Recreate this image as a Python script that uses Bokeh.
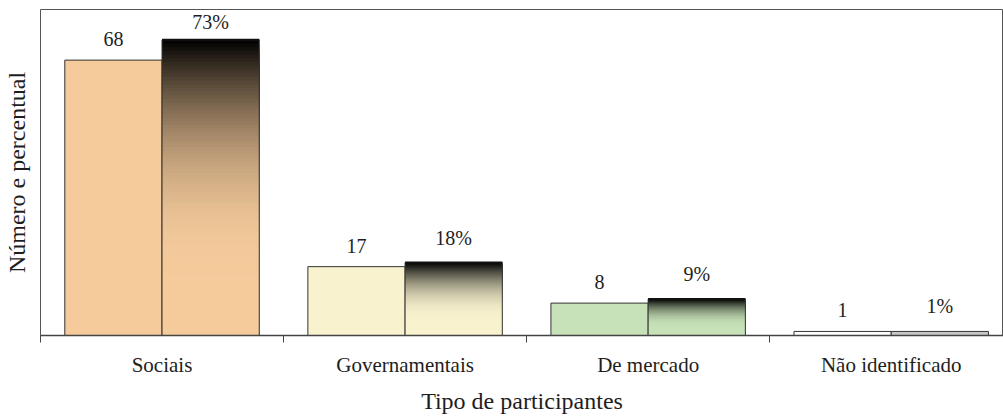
from bokeh.plotting import figure
from bokeh.models import FixedTicker, Range1d, ColumnDataSource
from bokeh.core.properties import value
from bokeh.embed import file_html
from bokeh.resources import INLINE

categories = ["Sociais", "Governamentais", "De mercado", "Não identificado"]
numbers = [68, 17, 8, 1]
percents = [73, 18, 9, 1]
number_colors = ["#F5CB9C", "#F8F2CE", "#C7E2B8", "#FFFFFF"]
percent_colors = ["#F5CB9C", "#F8F2CE", "#C7E2B8", "#C8C8C8"]
percent_gradient = [True, True, True, False]

FONT = "serif"
TXT = "#1e1e1e"
EDGE = "#333333"
Y_MAX = 80.5

p = figure(width=1003, height=416, output_backend="svg", toolbar_location=None,
           x_range=Range1d(0, 3.962), y_range=Range1d(0, Y_MAX),
           min_border_left=39, min_border_right=0, min_border_top=9, min_border_bottom=10)
p.xgrid.visible = False
p.ygrid.visible = False
p.outline_line_color = "#555555"
p.outline_line_width = 1
p.background_fill_color = "white"
p.border_fill_color = "white"

centers = [i + 0.5 for i in range(len(categories))]
num_x = [c - 0.2 for c in centers]
pct_x = [c + 0.2 for c in centers]

# number bars
p.vbar(x=num_x, top=numbers, width=0.4, bottom=0, fill_color=number_colors,
       line_color=EDGE, line_width=1)

# percent bars with vertical gradient (black at top -> base colour)
def hex2rgb(h):
    h = h.lstrip("#")
    return tuple(int(h[i:i + 2], 16) for i in (0, 2, 4))

n = 80
gl, gr, gb, gt, gc = [], [], [], [], []
for x, v, col, grad in zip(pct_x, percents, percent_colors, percent_gradient):
    r0, g0, b0 = hex2rgb(col)
    if not grad:
        gl.append(x - 0.2); gr.append(x + 0.2); gb.append(0); gt.append(v); gc.append(col)
        continue
    for k in range(n):
        t = (k + 0.5) / n
        u = min(1.0, t / 0.8)
        f = 1 - (1 - u) ** 2.2
        gl.append(x - 0.2); gr.append(x + 0.2)
        gt.append(v * (1 - k / n)); gb.append(0)
        gc.append("#%02x%02x%02x" % (int(r0 * f), int(g0 * f), int(b0 * f)))
p.quad(left=gl, right=gr, bottom=gb, top=gt, fill_color=gc, line_color=None)
p.vbar(x=pct_x, top=percents, width=0.4, bottom=0, fill_color=None,
       line_color=EDGE, line_width=1)
# dark top edge of gradient percent bars
gx = [x for x, g in zip(pct_x, percent_gradient) if g]
gy = [v for v, g in zip(percents, percent_gradient) if g]
p.segment(x0=[x - 0.2 for x in gx], x1=[x + 0.2 for x in gx], y0=gy, y1=gy,
          line_color="#111111", line_width=2)

# value labels (kept inside the frame near the top)
label_y = [min(v, Y_MAX - 9.2) for v in numbers + percents]
src = ColumnDataSource(dict(
    x=num_x + pct_x,
    y=label_y,
    t=[str(v) for v in numbers] + ["%d%%" % v for v in percents],
))
p.text(x="x", y="y", text="t", source=src, text_align="center", text_baseline="bottom",
       y_offset=-14, text_font=value(FONT), text_font_size="20px", text_color=TXT)

# x axis
xa = p.xaxis[0]
xa.ticker = FixedTicker(ticks=centers, minor_ticks=[0, 1, 2, 3, 4])
xa.major_label_overrides = {c: lab for c, lab in zip(centers, categories)}
xa.major_tick_out = 0
xa.major_tick_in = 0
xa.minor_tick_out = 7
xa.minor_tick_in = 0
xa.minor_tick_line_color = "#444444"
xa.axis_line_color = "#444444"
xa.axis_line_width = 1.5
xa.major_label_standoff = 10
xa.major_label_text_font = FONT
xa.major_label_text_font_size = "21px"
xa.major_label_text_color = TXT
xa.axis_label = "Tipo de participantes"
xa.axis_label_text_font = FONT
xa.axis_label_text_font_size = "24px"
xa.axis_label_text_font_style = "normal"
xa.axis_label_text_color = TXT
xa.axis_label_standoff = 8

# y axis
ya = p.yaxis[0]
ya.ticker = FixedTicker(ticks=[])
ya.major_tick_out = 0
ya.major_tick_in = 0
ya.minor_tick_out = 0
ya.major_label_text_font_size = "0px"
ya.major_label_standoff = 0
ya.axis_line_color = None
ya.axis_label = "Número e percentual"
ya.axis_label_text_font = FONT
ya.axis_label_text_font_size = "24px"
ya.axis_label_text_font_style = "normal"
ya.axis_label_text_color = TXT
ya.axis_label_standoff = 11

open("out.html", "w").write(file_html(p, INLINE))
